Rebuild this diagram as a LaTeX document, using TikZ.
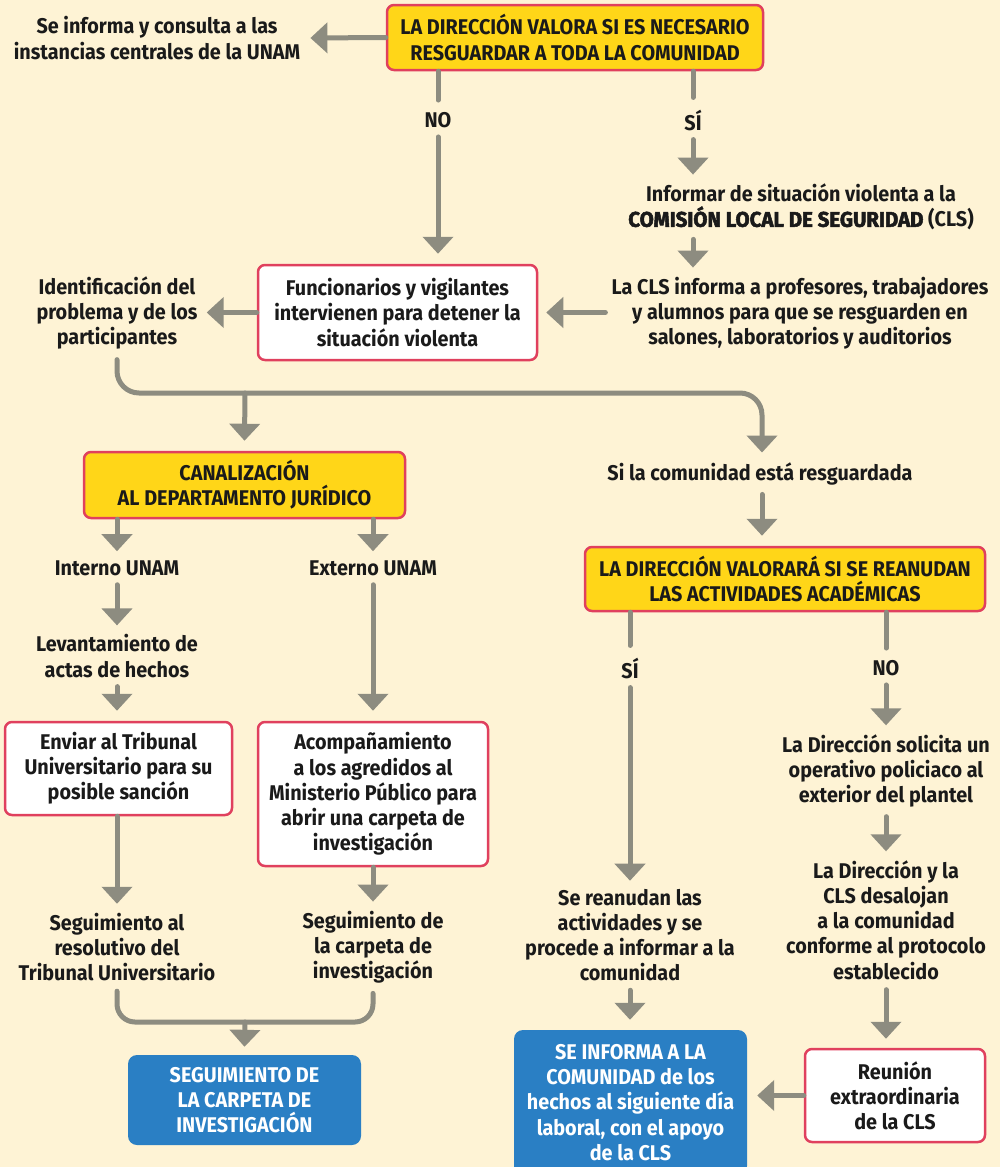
\documentclass[tikz,border=0pt]{standalone}
\usepackage{fontspec}
\setmainfont{Fira Sans}[FakeStretch=0.93]
\newfontfamily\heavyfont{Fira Sans}[FakeStretch=0.96,BoldFeatures={FakeBold=2.4}]
\usetikzlibrary{arrows.meta}
\definecolor{bg}{HTML}{FEF3D5}
\definecolor{ylw}{HTML}{FFD618}
\definecolor{rdb}{HTML}{E0405E}
\definecolor{blu}{HTML}{2A7FC4}
\definecolor{gry}{HTML}{8D8C80}
\definecolor{ink}{HTML}{1A1A1A}
\tikzset{
  txt/.style={align=center,inner sep=0pt,text=ink},
  ybox/.style={txt,fill=ylw,draw=rdb,line width=2.5pt,rounded corners=7pt},
  wbox/.style={txt,fill=white,draw=rdb,line width=2.5pt,rounded corners=7pt},
  bbox/.style={txt,fill=blu,text=white,rounded corners=9pt},
  arr/.style={draw=gry,line width=5pt,line cap=round,-{Triangle[width=30pt,length=17pt]}},
  ln/.style={draw=gry,line width=5pt,line cap=round},
}
\begin{document}
\begin{tikzpicture}[x=1pt,y=-1pt,font=\fontsize{21.3}{25.2}\selectfont\bfseries]
\useasboundingbox (0,0) rectangle (1000,1167);
\fill[bg] (0,0) rectangle (1000,1167);

% top
\node[ybox,minimum width=376pt,minimum height=65pt] (top) at (575,37.5) {LA DIRECCIÓN VALORA SI ES NECESARIO\\RESGUARDAR A TODA LA COMUNIDAD};
\node[txt] (inf) at (157,38) {Se informa y consulta a las\\instancias centrales de la UNAM};
\node[txt] (no1) at (438,120) {NO};
\node[txt] (si1) at (693,120) {SÍ};
\node[txt] (cls1) at (801,207) {Informar de situación violenta a la\\{\heavyfont COMISIÓN LOCAL DE SEGURIDAD} (CLS)};
\node[txt] (cls2) at (800,313) {La CLS informa a profesores, trabajadores\\y alumnos para que se resguarden en\\salones, laboratorios y auditorios};
\node[wbox,minimum width=279pt,minimum height=95pt] (func) at (397.5,312.5) {Funcionarios y vigilantes\\intervienen para detener la\\situación violenta};
\node[txt] (ident) at (117,313) {Identificación del\\problema y de los\\participantes};
\coordinate (j1) at (245,393);
\node[txt] (res) at (760,474) {Si la comunidad está resguardada};

% left branch
\node[ybox,minimum width=321pt,minimum height=66pt] (canal) at (244.5,485) {CANALIZACIÓN\\AL DEPARTAMENTO JURÍDICO};
\node[txt] (int) at (117,568) {Interno UNAM};
\node[txt] (ext) at (373,568) {Externo UNAM};
\node[txt] (lev) at (117,656) {Levantamiento de\\actas de hechos};
\node[wbox,minimum width=227pt,minimum height=93pt] (env) at (118.5,768.5) {Enviar al Tribunal\\Universitario para su\\posible sanción};
\node[wbox,minimum width=230pt,minimum height=144pt] (acom) at (373,794) {Acompañamiento\\a los agredidos al\\Ministerio Público para\\abrir una carpeta de\\investigación};
\node[txt] (seg1) at (117,947) {Seguimiento al\\resolutivo del\\Tribunal Universitario};
\node[txt] (seg2) at (373,947) {Seguimiento de\\la carpeta de\\investigación};
\coordinate (j2) at (245,1022);
\node[bbox,minimum width=233pt,minimum height=90pt] (blue1) at (244.5,1100) {SEGUIMIENTO DE\\LA CARPETA DE\\INVESTIGACIÓN};

% right branch
\node[ybox,minimum width=400pt,minimum height=64pt] (val) at (785,579) {LA DIRECCIÓN VALORARÁ SI SE REANUDAN\\LAS ACTIVIDADES ACADÉMICAS};
\node[txt] (si2) at (630,668) {SÍ};
\node[txt] (no2) at (886,668) {NO};
\node[txt] (sol) at (886,771) {La Dirección solicita un\\operativo policiaco al\\exterior del plantel};
\node[txt] (desal) at (886,920) {La Dirección y la\\CLS desalojan\\a la comunidad\\conforme al protocolo\\establecido};
\node[wbox,minimum width=180pt,minimum height=93pt] (reun) at (895,1095.5) {Reunión\\extraordinaria\\de la CLS};
\node[txt] (rean) at (630,935) {Se reanudan las\\actividades y se\\procede a informar a la\\comunidad};
\node[bbox,minimum width=233pt,minimum height=145pt] (blue2) at (630.5,1102.5) {SE INFORMA A LA\\COMUNIDAD de los\\hechos al siguiente día\\laboral, con el apoyo\\de la CLS};

% connectors
\draw[arr] (top.west) -- ([xshift=10pt]inf.east);
\draw[ln] (no1 |- top.south) -- ([yshift=12pt]no1.north);
\draw[arr] ([yshift=-9pt]no1.south) -- ([yshift=10pt]no1 |- func.north);
\draw[ln] (si1 |- top.south) -- ([yshift=12pt]si1.north);
\draw[arr] ([yshift=-9pt]si1.south) -- ([yshift=9pt]si1 |- cls1.north);
\draw[arr] ([yshift=-9pt]si1 |- cls1.south) -- ([yshift=9pt]si1 |- cls2.north);
\draw[arr] ([xshift=-6pt]cls2.west |- func.east) -- ([xshift=8pt]func.east);
\draw[arr] (func.west) -- ([xshift=9pt]ident.east |- func.west);
\draw[arr,rounded corners=22pt] ([yshift=-10pt]ident.south) |- (j1) -| ([xshift=2pt,yshift=10pt]res.north);
\draw[arr] (j1) -- ([yshift=10pt]canal.north);

\draw[arr] (int |- canal.south) -- ([yshift=9pt]int.north);
\draw[arr] (ext |- canal.south) -- ([yshift=9pt]ext.north);
\draw[arr] ([yshift=-9pt]int.south) -- ([yshift=9pt]lev.north);
\draw[arr] ([yshift=-9pt]lev.south) -- ([yshift=10pt]lev |- env.north);
\draw[arr] (int |- env.south) -- ([yshift=9pt]int |- seg1.north);
\draw[arr] ([yshift=-9pt]ext.south) -- ([yshift=10pt]acom.north);
\draw[arr] (acom.south) -- ([yshift=9pt]seg2.north);
\draw[ln,rounded corners=18pt] ([yshift=-10pt]seg1.south) |- (j2) -| ([yshift=-10pt]seg2.south);
\draw[arr] (j2) -- ([yshift=8pt]blue1.north);

\draw[arr] ([xshift=2pt,yshift=-9pt]res.south) -- ([xshift=2pt,yshift=10pt]res.south |- val.north);
\draw[ln] (si2 |- val.south) -- ([yshift=12pt]si2.north);
\draw[ln] (no2 |- val.south) -- ([yshift=12pt]no2.north);
\draw[arr] ([yshift=-9pt]si2.south) -- ([yshift=8pt]rean.north);
\draw[arr] ([yshift=-9pt]no2.south) -- ([yshift=9pt]sol.north);
\draw[arr] ([yshift=-9pt]sol.south) -- ([yshift=9pt]desal.north);
\draw[arr] ([yshift=-10pt]desal.south) -- ([yshift=9pt]desal |- reun.north);
\draw[arr] ([yshift=-9pt]rean.south) -- ([yshift=10pt]rean |- blue2.north);
\draw[arr] (reun.west) -- ([xshift=10pt]blue2.east |- reun.west);
\end{tikzpicture}
\end{document}
